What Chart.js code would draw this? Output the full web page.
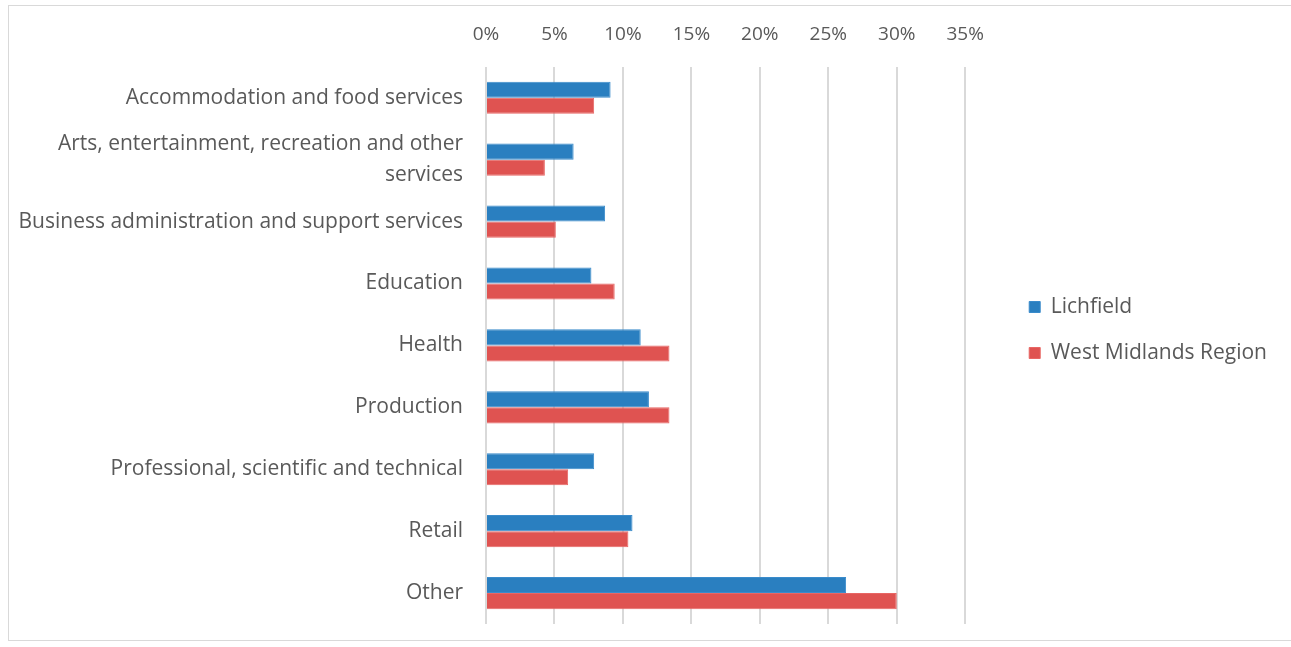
<!DOCTYPE html>
<html>
<head>
<meta charset="utf-8">
<script src="https://cdn.jsdelivr.net/npm/chart.js@4/dist/chart.umd.min.js"></script>
<style>
  html, body { margin: 0; padding: 0; background: #fff; }
  #frame { position: absolute; left: 8px; top: 5px; width: 1290px; height: 636px; border: 1px solid #d9d9d9; border-right: none; box-sizing: border-box; }
  #wrap { position: absolute; left: 0; top: 0; width: 1291px; height: 647px; }
</style>
</head>
<body>
<div id="frame"></div>
<div id="wrap"><canvas id="chart"></canvas></div>
<script>
const categories = [
  "Accommodation and food services",
  ["Arts, entertainment, recreation and other", "services"],
  "Business administration and support services",
  "Education",
  "Health",
  "Production",
  "Professional, scientific and technical",
  "Retail",
  "Other"
];
const lichfield = [9.1, 6.4, 8.7, 7.7, 11.3, 11.9, 7.9, 10.7, 26.3];
const westMidlands = [7.9, 4.3, 5.1, 9.4, 13.4, 13.4, 6.0, 10.4, 30.0];
const xTicks = [0, 5, 10, 15, 20, 25, 30, 35];

const textColor = "#595959";
const fontFamily = "'Open Sans', 'DejaVu Sans', sans-serif";

// push the legend a bit further away from the plot, like the Excel original
const legendShift = {
  id: "legendShift",
  afterLayout(chart) {
    const lg = chart.legend;
    lg.left += 39;
    lg.right += 39;
    lg.top += 17;
    lg.bottom += 17;
  }
};

new Chart(document.getElementById("chart"), {
  type: "bar",
  data: {
    labels: categories,
    datasets: [
      {
        label: "Lichfield",
        data: lichfield,
        backgroundColor: "#2a7fc0",
        borderColor: "#3a8bcb",
        borderWidth: 1,
        categoryPercentage: 0.52,
        barPercentage: 1
      },
      {
        label: "West Midlands Region",
        data: westMidlands,
        backgroundColor: "#df5351",
        borderColor: "#e86664",
        borderWidth: 1,
        categoryPercentage: 0.52,
        barPercentage: 1
      }
    ]
  },
  options: {
    indexAxis: "y",
    responsive: true,
    maintainAspectRatio: false,
    animation: false,
    layout: { padding: { left: 0, right: 53, top: 2, bottom: 23 } },
    plugins: {
      legend: {
        position: "right",
        align: "center",
        labels: {
          color: textColor,
          font: { family: fontFamily, size: 21 },
          boxWidth: 11,
          boxHeight: 11,
          padding: 25
        }
      },
      tooltip: { enabled: false }
    },
    scales: {
      x: {
        position: "top",
        min: 0,
        max: 35,
        afterBuildTicks: (axis) => { axis.ticks = xTicks.map(v => ({ value: v })); },
        ticks: {
          color: textColor,
          font: { family: fontFamily, size: 19 },
          padding: 21,
          callback: (v) => v + "%"
        },
        grid: { color: "#d9d9d9", lineWidth: 2, drawTicks: false },
        border: { display: false }
      },
      y: {
        afterFit: (axis) => {
          axis.width = 486;
          axis.paddingTop = 0;
          axis.paddingBottom = 0;
        },
        ticks: {
          autoSkip: false,
          color: textColor,
          font: { family: fontFamily, size: 21, lineHeight: 1.45 },
          padding: 15
        },
        grid: { display: false },
        border: { display: false }
      }
    }
  },
  plugins: [legendShift]
});
</script>
</body>
</html>
